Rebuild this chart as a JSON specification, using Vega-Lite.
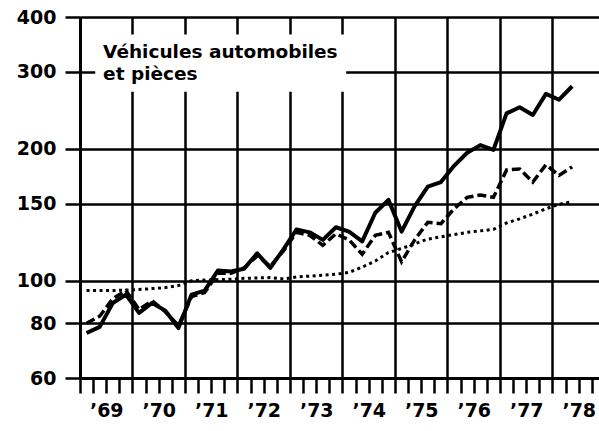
{
  "$schema": "https://vega.github.io/schema/vega-lite/v6.json",
  "width": 519,
  "height": 361,
  "autosize": {"type": "none"},
  "padding": {"left": 80, "top": 17, "right": 0, "bottom": 53},
  "background": "white",
  "config": {
    "view": {"stroke": null},
    "axis": {
      "domainColor": "black",
      "tickColor": "black",
      "gridColor": "black",
      "labelColor": "black",
      "labelFont": "DejaVu Sans",
      "labelFontWeight": "bold",
      "labelFontSize": 19,
      "title": null
    }
  },
  "datasets": {
    "index": [
      {"year": 1969.125, "value": 76, "series": "Prix"},
      {"year": 1969.375, "value": 78.5, "series": "Prix"},
      {"year": 1969.625, "value": 89, "series": "Prix"},
      {"year": 1969.875, "value": 93, "series": "Prix"},
      {"year": 1970.125, "value": 84.5, "series": "Prix"},
      {"year": 1970.375, "value": 89, "series": "Prix"},
      {"year": 1970.625, "value": 85.5, "series": "Prix"},
      {"year": 1970.875, "value": 78, "series": "Prix"},
      {"year": 1971.125, "value": 93, "series": "Prix"},
      {"year": 1971.375, "value": 95, "series": "Prix"},
      {"year": 1971.625, "value": 105.5, "series": "Prix"},
      {"year": 1971.875, "value": 105, "series": "Prix"},
      {"year": 1972.125, "value": 106.5, "series": "Prix"},
      {"year": 1972.375, "value": 115.5, "series": "Prix"},
      {"year": 1972.625, "value": 107, "series": "Prix"},
      {"year": 1972.875, "value": 118, "series": "Prix"},
      {"year": 1973.125, "value": 131, "series": "Prix"},
      {"year": 1973.375, "value": 129, "series": "Prix"},
      {"year": 1973.625, "value": 124, "series": "Prix"},
      {"year": 1973.875, "value": 132.5, "series": "Prix"},
      {"year": 1974.125, "value": 129.5, "series": "Prix"},
      {"year": 1974.375, "value": 123, "series": "Prix"},
      {"year": 1974.625, "value": 143, "series": "Prix"},
      {"year": 1974.875, "value": 153, "series": "Prix"},
      {"year": 1975.125, "value": 129.5, "series": "Prix"},
      {"year": 1975.375, "value": 148, "series": "Prix"},
      {"year": 1975.625, "value": 164, "series": "Prix"},
      {"year": 1975.875, "value": 168, "series": "Prix"},
      {"year": 1976.125, "value": 183, "series": "Prix"},
      {"year": 1976.375, "value": 196, "series": "Prix"},
      {"year": 1976.625, "value": 204, "series": "Prix"},
      {"year": 1976.875, "value": 199, "series": "Prix"},
      {"year": 1977.125, "value": 241, "series": "Prix"},
      {"year": 1977.375, "value": 249, "series": "Prix"},
      {"year": 1977.625, "value": 239, "series": "Prix"},
      {"year": 1977.875, "value": 267, "series": "Prix"},
      {"year": 1978.125, "value": 259, "series": "Prix"},
      {"year": 1978.375, "value": 278, "series": "Prix"},

      {"year": 1969.125, "value": 80, "series": "Tirets"},
      {"year": 1969.375, "value": 83, "series": "Tirets"},
      {"year": 1969.625, "value": 91, "series": "Tirets"},
      {"year": 1969.875, "value": 95, "series": "Tirets"},
      {"year": 1970.125, "value": 86, "series": "Tirets"},
      {"year": 1970.375, "value": 90, "series": "Tirets"},
      {"year": 1970.625, "value": 85, "series": "Tirets"},
      {"year": 1970.875, "value": 79, "series": "Tirets"},
      {"year": 1971.125, "value": 92, "series": "Tirets"},
      {"year": 1971.375, "value": 94, "series": "Tirets"},
      {"year": 1971.625, "value": 104, "series": "Tirets"},
      {"year": 1971.875, "value": 104, "series": "Tirets"},
      {"year": 1972.125, "value": 107, "series": "Tirets"},
      {"year": 1972.375, "value": 114, "series": "Tirets"},
      {"year": 1972.625, "value": 108, "series": "Tirets"},
      {"year": 1972.875, "value": 117, "series": "Tirets"},
      {"year": 1973.125, "value": 129, "series": "Tirets"},
      {"year": 1973.375, "value": 127, "series": "Tirets"},
      {"year": 1973.625, "value": 120.5, "series": "Tirets"},
      {"year": 1973.875, "value": 128, "series": "Tirets"},
      {"year": 1974.125, "value": 124, "series": "Tirets"},
      {"year": 1974.375, "value": 115, "series": "Tirets"},
      {"year": 1974.625, "value": 127, "series": "Tirets"},
      {"year": 1974.875, "value": 129, "series": "Tirets"},
      {"year": 1975.125, "value": 110.5, "series": "Tirets"},
      {"year": 1975.375, "value": 124, "series": "Tirets"},
      {"year": 1975.625, "value": 136, "series": "Tirets"},
      {"year": 1975.875, "value": 135, "series": "Tirets"},
      {"year": 1976.125, "value": 146, "series": "Tirets"},
      {"year": 1976.375, "value": 155, "series": "Tirets"},
      {"year": 1976.625, "value": 157, "series": "Tirets"},
      {"year": 1976.875, "value": 155, "series": "Tirets"},
      {"year": 1977.125, "value": 179, "series": "Tirets"},
      {"year": 1977.375, "value": 180, "series": "Tirets"},
      {"year": 1977.625, "value": 168, "series": "Tirets"},
      {"year": 1977.875, "value": 184, "series": "Tirets"},
      {"year": 1978.125, "value": 174, "series": "Tirets"},
      {"year": 1978.375, "value": 182, "series": "Tirets"},

      {"year": 1969.125, "value": 95, "series": "Points"},
      {"year": 1969.375, "value": 95, "series": "Points"},
      {"year": 1969.625, "value": 95, "series": "Points"},
      {"year": 1969.875, "value": 95.2, "series": "Points"},
      {"year": 1970.125, "value": 95.5, "series": "Points"},
      {"year": 1970.375, "value": 96, "series": "Points"},
      {"year": 1970.625, "value": 96.5, "series": "Points"},
      {"year": 1970.875, "value": 97.5, "series": "Points"},
      {"year": 1971.125, "value": 100, "series": "Points"},
      {"year": 1971.375, "value": 100.4, "series": "Points"},
      {"year": 1971.625, "value": 100.6, "series": "Points"},
      {"year": 1971.875, "value": 100.8, "series": "Points"},
      {"year": 1972.125, "value": 101.3, "series": "Points"},
      {"year": 1972.375, "value": 101.5, "series": "Points"},
      {"year": 1972.625, "value": 101.7, "series": "Points"},
      {"year": 1972.875, "value": 101, "series": "Points"},
      {"year": 1973.125, "value": 102, "series": "Points"},
      {"year": 1973.375, "value": 102.5, "series": "Points"},
      {"year": 1973.625, "value": 103, "series": "Points"},
      {"year": 1973.875, "value": 103.5, "series": "Points"},
      {"year": 1974.125, "value": 104.5, "series": "Points"},
      {"year": 1974.375, "value": 107.5, "series": "Points"},
      {"year": 1974.625, "value": 111, "series": "Points"},
      {"year": 1974.875, "value": 116, "series": "Points"},
      {"year": 1975.125, "value": 118.5, "series": "Points"},
      {"year": 1975.375, "value": 121.5, "series": "Points"},
      {"year": 1975.625, "value": 124.5, "series": "Points"},
      {"year": 1975.875, "value": 126, "series": "Points"},
      {"year": 1976.125, "value": 127.5, "series": "Points"},
      {"year": 1976.375, "value": 129, "series": "Points"},
      {"year": 1976.625, "value": 130, "series": "Points"},
      {"year": 1976.875, "value": 131, "series": "Points"},
      {"year": 1977.125, "value": 135.5, "series": "Points"},
      {"year": 1977.375, "value": 138.5, "series": "Points"},
      {"year": 1977.625, "value": 142, "series": "Points"},
      {"year": 1977.875, "value": 146, "series": "Points"},
      {"year": 1978.125, "value": 149.5, "series": "Points"},
      {"year": 1978.375, "value": 151.5, "series": "Points"}
    ],
    "titlebox": [
      {"year": 1969.29, "year2": 1974.07, "value": 270, "value2": 365}
    ],
    "titletext": [
      {"year": 1969.44, "value": 322, "label": "Véhicules automobiles"},
      {"year": 1969.44, "value": 287, "label": "et pièces"}
    ]
  },
  "encoding": {
    "x": {
      "field": "year",
      "type": "quantitative",
      "scale": {"domain": [1969, 1978.886], "nice": false, "zero": false},
      "axis": {
        "values": [1969, 1969.25, 1969.5, 1969.75, 1970, 1970.25, 1970.5, 1970.75, 1971, 1971.25, 1971.5, 1971.75, 1972, 1972.25, 1972.5, 1972.75, 1973, 1973.25, 1973.5, 1973.75, 1974, 1974.25, 1974.5, 1974.75, 1975, 1975.25, 1975.5, 1975.75, 1976, 1976.25, 1976.5, 1976.75, 1977, 1977.25, 1977.5, 1977.75, 1978, 1978.25, 1978.5, 1978.75],
        "grid": true,
        "gridWidth": 2.5,
        "gridOpacity": {"condition": {"test": "datum.value % 1 === 0", "value": 1}, "value": 0},
        "tickSize": 15,
        "tickWidth": 2.5,
        "domainWidth": 3,
        "labelExpr": "datum.value % 1 === 0.5 ? '’' + (floor(datum.value) % 100) : ''",
        "labelOverlap": false,
        "labelFlush": false,
        "labelPadding": 8,
        "labelFontSize": 19
      }
    },
    "y": {
      "field": "value",
      "type": "quantitative",
      "scale": {"type": "log", "domain": [60, 400], "nice": false, "zero": false},
      "axis": {
        "values": [60, 80, 100, 150, 200, 300, 400],
        "grid": true,
        "gridWidth": 2.5,
        "tickSize": 15,
        "tickWidth": 2.5,
        "domainWidth": 3,
        "labelPadding": 9,
        "labelFontSize": 19,
        "format": "d"
      }
    }
  },
  "layer": [
    {
      "data": {"name": "titlebox"},
      "mark": {"type": "rect", "fill": "white", "stroke": null},
      "encoding": {
        "x2": {"field": "year2"},
        "y2": {"field": "value2"}
      }
    },
    {
      "data": {"name": "titletext"},
      "mark": {"type": "text", "align": "left", "baseline": "alphabetic", "font": "DejaVu Sans", "fontWeight": "bold", "fontSize": 18.5, "color": "black"},
      "encoding": {
        "text": {"field": "label"}
      }
    },
    {
      "data": {"name": "index"},
      "transform": [{"filter": "datum.series === 'Points'"}],
      "mark": {"type": "line", "color": "black", "strokeWidth": 3, "strokeDash": [3, 3.5]},
      "encoding": {}
    },
    {
      "data": {"name": "index"},
      "transform": [{"filter": "datum.series === 'Tirets'"}],
      "mark": {"type": "line", "color": "black", "strokeWidth": 3.5, "strokeDash": [9, 4]},
      "encoding": {}
    },
    {
      "data": {"name": "index"},
      "transform": [{"filter": "datum.series === 'Prix'"}],
      "mark": {"type": "line", "color": "black", "strokeWidth": 4, "strokeJoin": "round"},
      "encoding": {}
    }
  ]
}
